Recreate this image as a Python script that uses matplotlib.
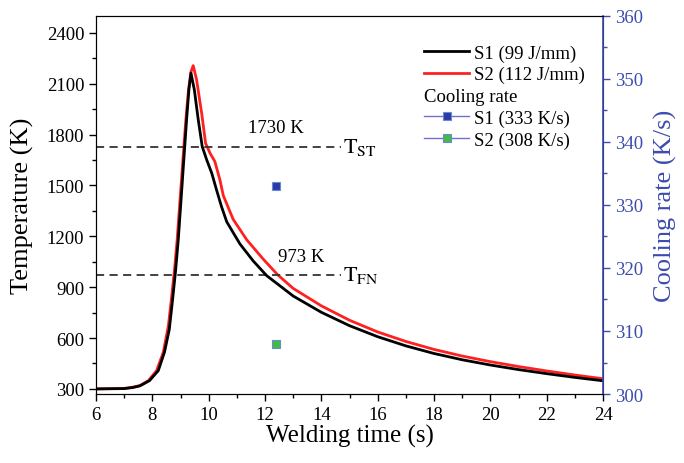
import numpy as np
import matplotlib
matplotlib.use("Agg")
import matplotlib.pyplot as plt
from matplotlib.lines import Line2D
from matplotlib.ticker import MultipleLocator

plt.rcParams['font.family'] = ['Liberation Serif', 'DejaVu Serif']
plt.rcParams['mathtext.fontset'] = 'stix'

# thermal cycles
t_s1 = [6.0, 7.0, 7.3, 7.56, 7.9, 8.21, 8.43, 8.6, 8.72, 8.82, 8.92, 9.02, 9.12, 9.22,
        9.3, 9.37, 9.49, 9.63, 9.77, 9.93, 10.11, 10.28, 10.45, 10.64, 11.11, 11.58,
        12.06, 13.0, 14.0, 15.0, 16.0, 17.0, 18.0, 19.0, 20.0, 21.0, 22.0, 23.0, 24.0]
temp_s1 = [300, 302, 308, 318, 349, 408, 517, 650, 830, 990, 1180, 1420, 1660, 1900,
           2070, 2163, 2065, 1887, 1730, 1651, 1572, 1473, 1378, 1286, 1155, 1055,
           968, 848, 752, 673, 608, 554, 509, 472, 441, 414, 390, 368, 348]
t_s2 = [6.0, 7.0, 7.3, 7.56, 7.86, 8.15, 8.39, 8.57, 8.69, 8.79, 8.88, 8.98, 9.08,
        9.18, 9.28, 9.37, 9.45, 9.57, 9.75, 9.89, 10.05, 10.22, 10.4, 10.52, 10.87,
        11.35, 11.94, 12.45, 13.0, 14.0, 15.0, 16.0, 17.0, 18.0, 19.0, 20.0, 21.0,
        22.0, 23.0, 24.0]
temp_s2 = [300, 303, 310, 320, 349, 408, 517, 674, 852, 1010, 1180, 1410, 1640,
           1870, 2060, 2170, 2207, 2124, 1927, 1749, 1690, 1641, 1532, 1440, 1300,
           1180, 1065, 973, 893, 790, 705, 636, 580, 533, 494, 461, 432,
           406, 382, 360]

# cooling rates
cr_time = [12.4, 12.4]
cr_rate = [333, 308]
cr_labels = ['S1 (333 K/s)', 'S2 (308 K/s)']
cr_colors = ['#2a3aa8', '#44bb44']

# reference temperatures
ref_temps = [1730, 973]
ref_names = [r'$\mathrm{T}_{\mathrm{ST}}$', r'$\mathrm{T}_{\mathrm{FN}}$']
ref_text = ['1730 K', '973 K']
ref_text_x = [12.4, 13.3]
ref_end = 14.7

axis_blue = '#3d4bb0'
line_blue = '#7070d0'

fig = plt.figure(figsize=(6.84, 4.64), dpi=100)
ax = fig.add_axes([0.1404, 0.1487, 0.7412, 0.8147])
ax2 = ax.twinx()

ax.plot(t_s1, temp_s1, color='black', lw=2.0, label='S1 (99 J/mm)', zorder=3)
ax.plot(t_s2, temp_s2, color='#ff2020', lw=2.0, label='S2 (112 J/mm)', zorder=2)

for yv, name, txt, tx in zip(ref_temps, ref_names, ref_text, ref_text_x):
    ax.plot([6, ref_end], [yv, yv], color='#333333', ls=(0, (4.5, 3)), lw=1.3)
    ax.text(ref_end + 0.08, yv, name, fontsize=16, va='center', ha='left')
    ax.text(tx, yv + 60, txt, fontsize=13.5, ha='center', va='bottom')

cr_handles = []
for x, y, lab, c in zip(cr_time, cr_rate, cr_labels, cr_colors):
    h, = ax2.plot([x], [y], marker='s', ms=6, mfc=c, mec='#6a8ad0', mew=0.8,
                  color=line_blue, lw=1.0, ls='-', label=lab)
    cr_handles.append(h)

ax.set_xlim(6, 24)
ax.set_ylim(270, 2500)
ax2.set_ylim(300, 360)

ax.xaxis.set_major_locator(MultipleLocator(2))
ax.xaxis.set_minor_locator(MultipleLocator(1))
ax.yaxis.set_major_locator(MultipleLocator(300))
ax.yaxis.set_minor_locator(MultipleLocator(150))
ax2.yaxis.set_major_locator(MultipleLocator(10))
ax2.yaxis.set_minor_locator(MultipleLocator(5))

ax.tick_params(axis='both', which='major', direction='out', length=5, width=1,
               labelsize=13.5, right=False, top=False)
ax.tick_params(axis='both', which='minor', direction='out', length=3, width=1,
               right=False, top=False)
ax2.tick_params(axis='y', which='major', direction='out', length=5, width=1,
                labelsize=13.5, colors=axis_blue)
ax2.tick_params(axis='y', which='minor', direction='out', length=3, width=1,
                colors=axis_blue)
ax2.spines['right'].set_color(axis_blue)
ax2.spines['right'].set_linewidth(1.2)

ax.set_xlabel('Welding time (s)', fontsize=18, labelpad=1)
ax.set_ylabel('Temperature (K)', fontsize=19, labelpad=9)
ax2.set_ylabel('Cooling rate (K/s)', fontsize=19, color=axis_blue, labelpad=8)

spacer = Line2D([], [], color='none')
handles = ax.get_lines()[:2] + [spacer] + cr_handles
labels = ['S1 (99 J/mm)', 'S2 (112 J/mm)', ' '] + cr_labels
leg = ax2.legend(handles, labels, loc='upper right', bbox_to_anchor=(0.99, 0.96),
                 frameon=False, fontsize=13.5, handlelength=2.4, handletextpad=0.25,
                 labelspacing=0.24, borderaxespad=0.3)

# header "Cooling rate" sits where the blank legend row is, flush with the handles
fig.canvas.draw()
renderer = fig.canvas.get_renderer()
row = leg.get_texts()[2].get_window_extent(renderer)
first = leg.get_texts()[0].get_window_extent(renderer)
x_left = first.x0 - (2.4 + 0.25) * 13.5 * fig.dpi / 72
ax2.annotate('Cooling rate', xy=(x_left, (row.y0 + row.y1) / 2), xycoords='figure pixels',
             fontsize=13.5, ha='left', va='center')

fig.savefig('out.png', dpi=100)
